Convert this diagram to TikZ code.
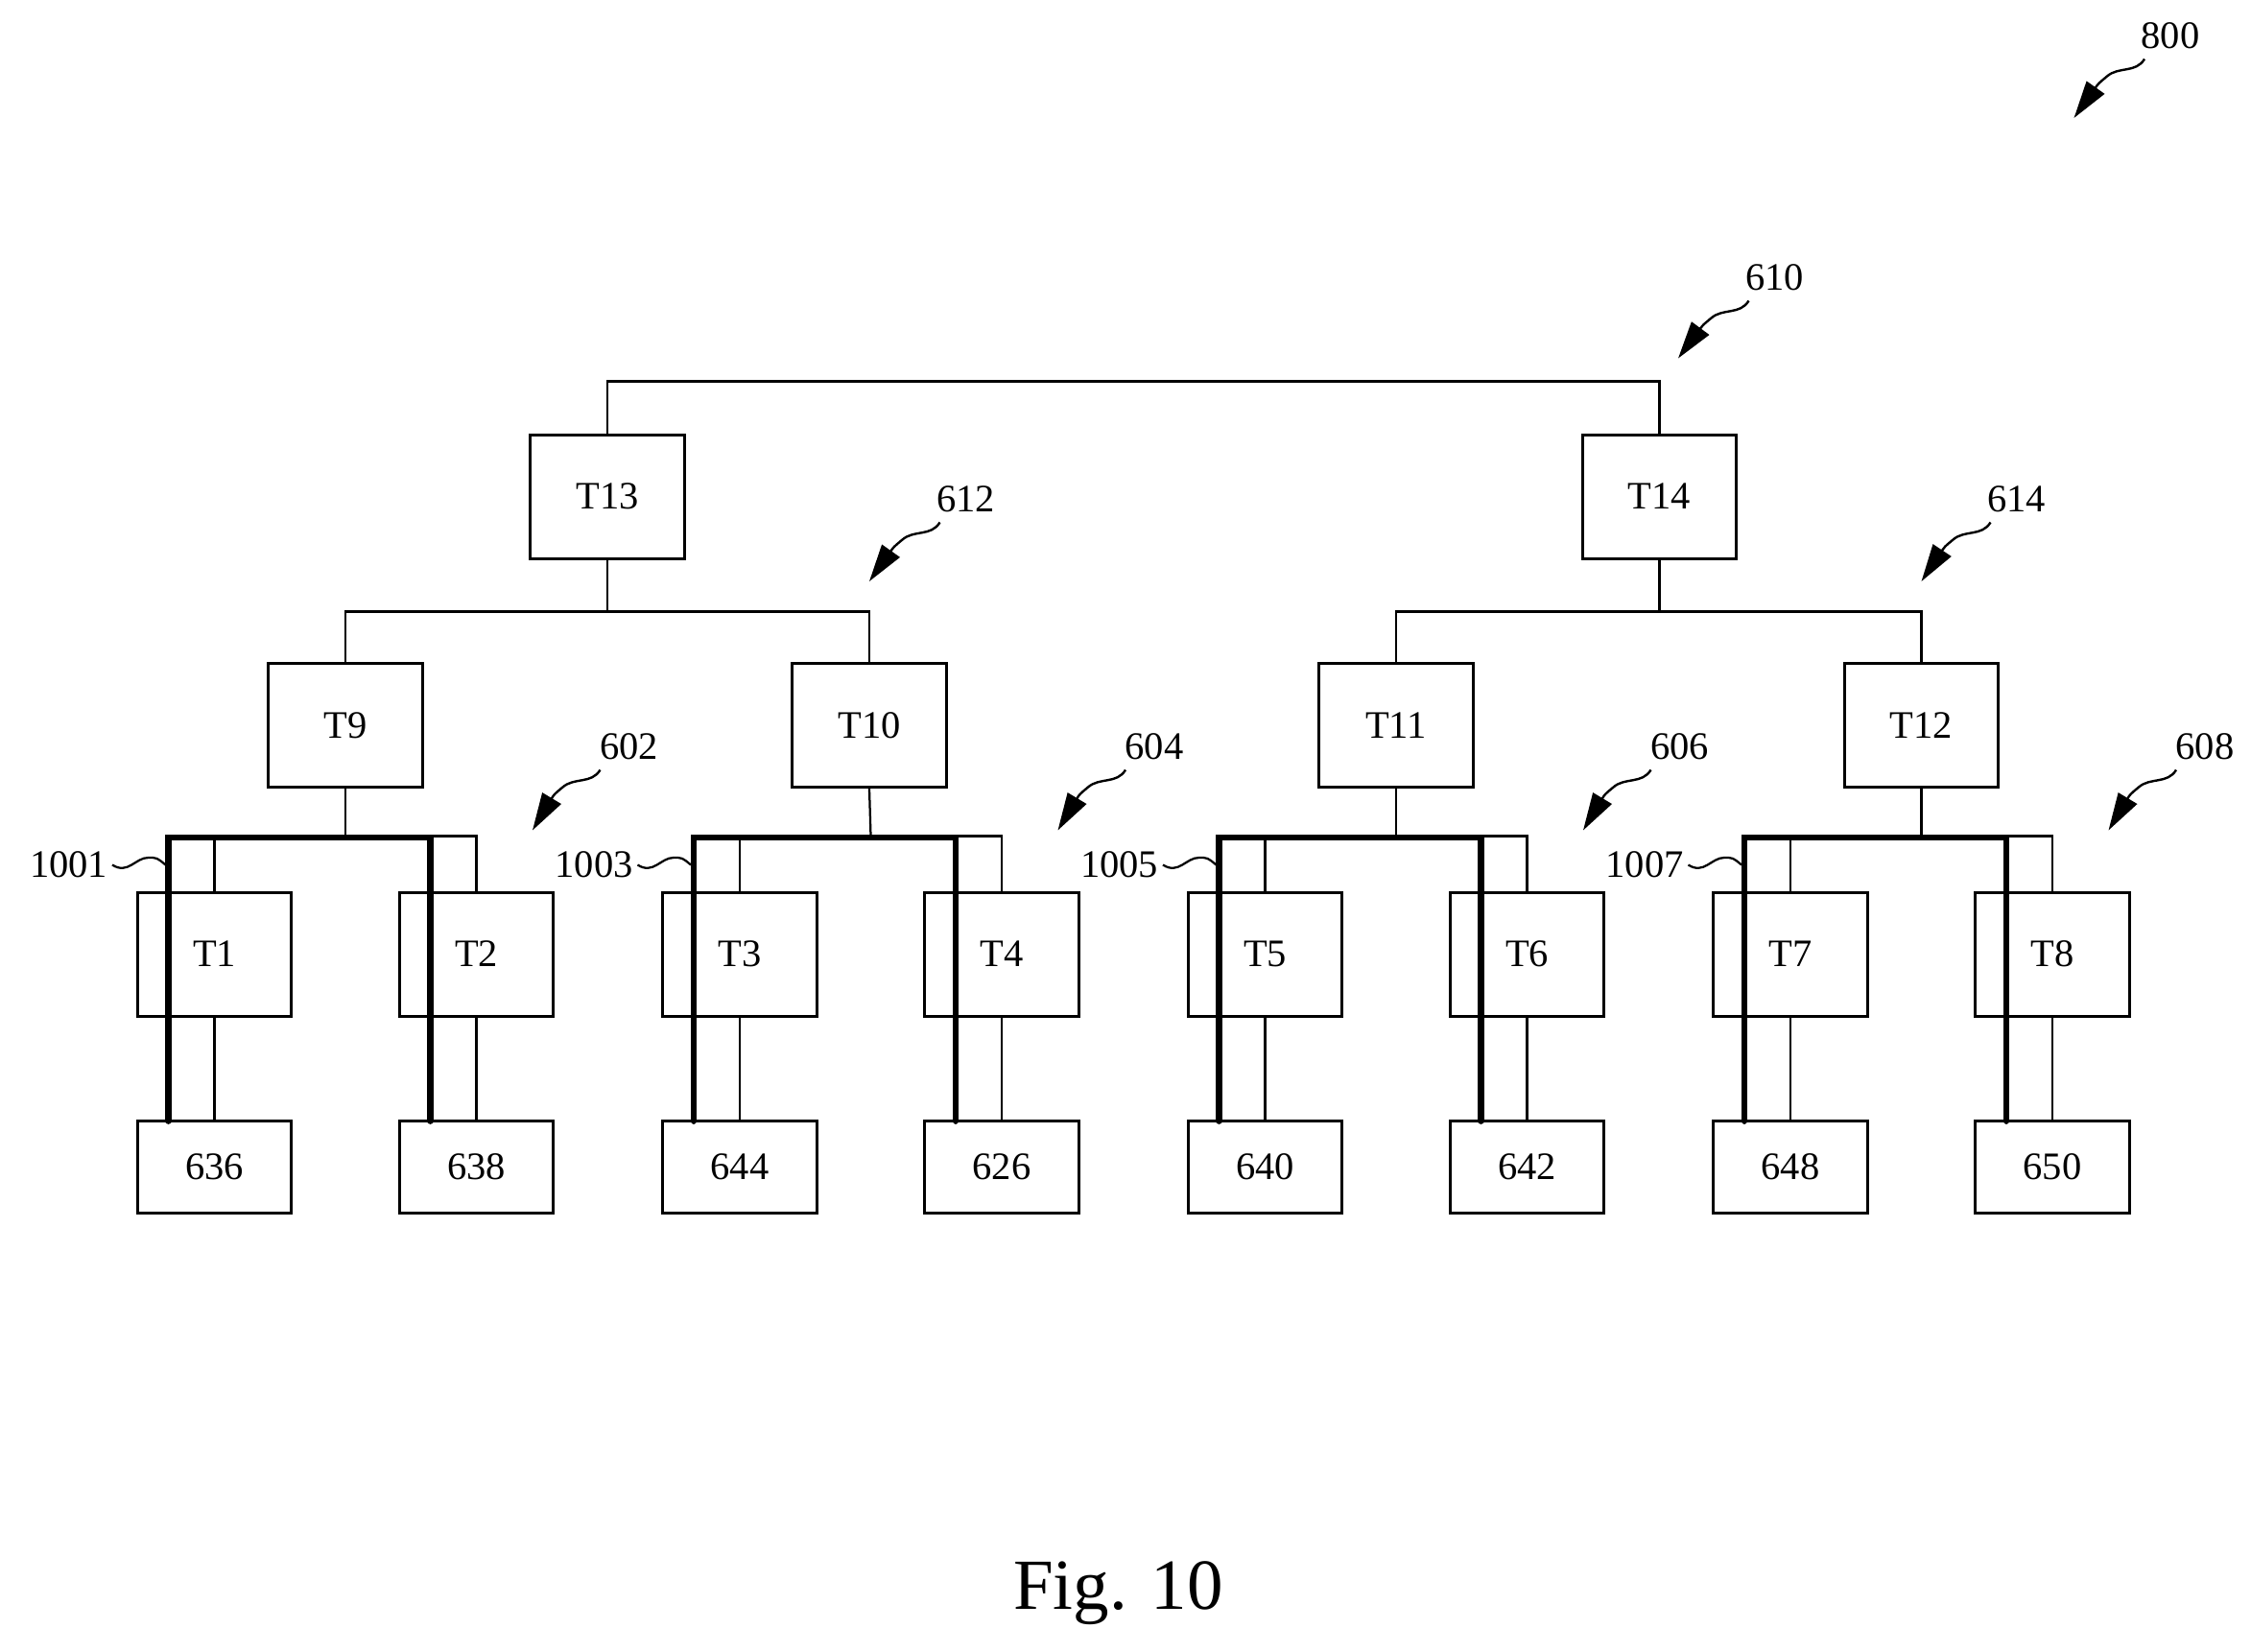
\documentclass[tikz,border=0pt]{standalone}
\usepackage{fontspec}
\setmainfont{Liberation Serif}
\usetikzlibrary{arrows.meta}
\begin{document}
\begin{tikzpicture}[x=1pt,y=-1pt,
  box/.style={draw,line width=2pt,minimum width=107pt,minimum height=86pt,inner sep=0pt,font=\fontsize{27}{30}\selectfont},
  leaf/.style={box,minimum height=64pt},
  thin/.style={line width=1.5pt},
  thick/.style={line width=4.5pt},
  lbl/.style={font=\fontsize{27}{30}\selectfont,inner sep=0pt},
  ptr/.style={line width=1.6pt,-{Triangle[length=26pt,width=15pt]}}]
\useasboundingbox (0,0) rectangle (1564,1148);
\node[box] (T13) at (422,345) {T13};
\node[box] (T14) at (1153,345) {T14};
\node[box] (T9) at (240,504) {T9};
\node[box] (T10) at (604,504) {T10};
\node[box] (T11) at (970,504) {T11};
\node[box] (T12) at (1335,504) {T12};
\draw[thin] (T13.north) |- (422,265) -| (T14.north);
\draw[thin] (T13.south) -- (422,425);
\draw[thin] (T9.north) |- (422,425) -| (T10.north);
\draw[thin] (T14.south) -- (1153,425);
\draw[thin] (T11.north) |- (1153,425) -| (T12.north);
\foreach \g/\p/\a/\b/\la/\lb/\num/\arr in {0/T9/T1/T2/636/638/1001/602, 1/T10/T3/T4/644/626/1003/604, 2/T11/T5/T6/640/642/1005/606, 3/T12/T7/T8/648/650/1007/608}{
  \pgfmathsetmacro\xa{149+365*\g}
  \pgfmathsetmacro\xb{331+365*\g}
  \node[box] (\a) at (\xa,663) {\a};
  \node[box] (\b) at (\xb,663) {\b};
  \node[leaf] (L\la) at (\xa,811) {\la};
  \node[leaf] (L\lb) at (\xb,811) {\lb};
  \draw[thin] (\p.south) -- (\xa/2+\xb/2,581);
  \draw[thin] (\a.north) |- (\xb,581) -- (\b.north);
  \draw[thin] (\a.south) -- (L\la.north);
  \draw[thin] (\b.south) -- (L\lb.north);
  \draw[thick,line cap=round,line join=miter] (\xa-32,779) |- (\xb-32,582) -- (\xb-32,779);
  \node[lbl,anchor=east] (n\g) at (\xa-74,601) {\num};
  \draw[thin] (\xa-71,601) .. controls (\xa-60,608) and (\xa-55,596) .. (\xa-46,596) .. controls (\xa-40,596) .. (\xa-34,601);
  \node[lbl] (a\g) at (\xa+288,519) {\arr};
  \draw[ptr] (\xa+268,535) .. controls (\xa+262,545) and (\xa+250,540) .. (\xa+242,547) .. controls (\xa+236,552) .. (\xa+221,577);
}
\foreach \t/\x/\y/\tx/\ty in {612/671/347/604/404, 614/1401/347/1335/404, 610/1233/193/1166/249, 800/1508/25/1441/82}{
  \node[lbl] (r\t) at (\x,\y) {\t};
  \draw[ptr] (\x-18,\y+16) .. controls (\x-24,\y+26) and (\x-36,\y+21) .. (\x-44,\y+28) .. controls (\x-50,\y+33) .. (\tx,\ty);
}
\node[lbl,font=\fontsize{50}{56}\selectfont] (fig) at (777,1107) {Fig. 10};
\end{tikzpicture}
\end{document}
